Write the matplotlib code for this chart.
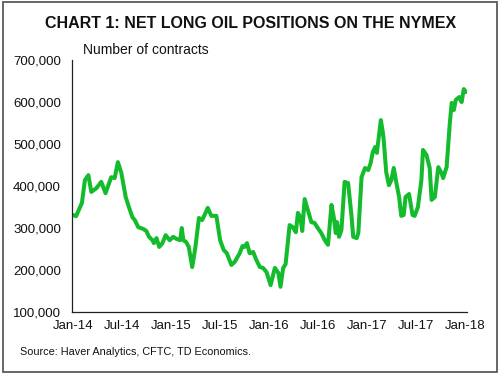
import matplotlib
matplotlib.use("Agg")
import matplotlib.pyplot as plt
import matplotlib.ticker as mticker
from matplotlib.patches import Rectangle
import pandas as pd

plt.rcParams['font.family'] = ['Liberation Sans', 'DejaVu Sans']

# # # # # # # # # # # # #    DATA    # # # # # # # # # # # # #
dates = ['2014-01-02', '2014-01-12', '2014-02-03', '2014-02-14', '2014-02-27',
         '2014-03-10', '2014-03-29', '2014-04-16', '2014-05-02', '2014-05-23',
         '2014-06-05', '2014-06-17', '2014-06-30', '2014-07-16', '2014-07-28',
         '2014-08-10', '2014-08-19', '2014-09-01', '2014-09-19', '2014-10-01',
         '2014-10-11', '2014-10-24', '2014-10-29', '2014-11-08', '2014-11-18',
         '2014-11-30', '2014-12-12', '2014-12-27', '2015-01-09', '2015-01-22',
         '2015-02-04', '2015-02-10', '2015-02-16', '2015-02-26', '2015-03-08',
         '2015-03-21', '2015-04-02', '2015-04-15', '2015-04-27', '2015-05-06',
         '2015-05-18', '2015-05-31', '2015-06-19', '2015-07-03', '2015-07-16',
         '2015-07-28', '2015-08-14', '2015-08-26', '2015-09-14', '2015-09-24',
         '2015-10-02', '2015-10-11', '2015-10-21', '2015-11-03', '2015-11-15',
         '2015-11-28', '2015-12-10', '2015-12-23', '2016-01-07', '2016-01-23',
         '2016-02-05', '2016-02-13', '2016-02-23', '2016-03-03', '2016-03-18',
         '2016-03-30', '2016-04-10', '2016-04-18', '2016-04-27', '2016-05-04',
         '2016-05-13', '2016-05-25', '2016-06-07', '2016-06-19', '2016-07-01',
         '2016-07-14', '2016-07-27', '2016-08-08', '2016-08-21', '2016-08-30',
         '2016-09-06', '2016-09-11', '2016-09-18', '2016-09-27', '2016-10-09',
         '2016-10-22', '2016-11-04', '2016-11-10', '2016-11-23', '2016-11-29',
         '2016-12-11', '2016-12-24', '2017-01-05', '2017-01-14', '2017-01-22',
         '2017-01-31', '2017-02-06', '2017-02-21', '2017-02-28', '2017-03-03',
         '2017-03-13', '2017-03-23', '2017-04-01', '2017-04-10', '2017-04-20',
         '2017-04-30', '2017-05-08', '2017-05-17', '2017-05-24', '2017-06-06',
         '2017-06-19', '2017-06-27', '2017-07-09', '2017-07-22', '2017-07-28',
         '2017-08-10', '2017-08-22', '2017-08-29', '2017-09-10', '2017-09-23',
         '2017-10-05', '2017-10-11', '2017-10-24', '2017-11-05', '2017-11-12',
         '2017-11-20', '2017-11-27', '2017-12-10', '2017-12-19', '2017-12-27',
         '2018-01-04']
contracts = [331000, 328000, 360000, 414000, 426000,
             386000, 395000, 410000, 383000, 421000,
             419000, 457000, 431000, 374000, 350000,
             326000, 319000, 302000, 298000, 293000,
             279000, 271000, 264000, 276000, 255000,
             264000, 283000, 271000, 279000, 274000,
             271000, 300000, 271000, 267000, 255000,
             207000, 255000, 324000, 319000, 331000,
             348000, 329000, 329000, 271000, 248000,
             240000, 212000, 219000, 240000, 257000,
             255000, 264000, 240000, 243000, 224000,
             207000, 205000, 195000, 164000, 205000,
             193000, 160000, 205000, 214000, 307000,
             302000, 290000, 336000, 326000, 293000,
             369000, 343000, 314000, 312000, 300000,
             288000, 271000, 260000, 355000, 324000,
             288000, 314000, 279000, 295000, 410000,
             407000, 326000, 279000, 276000, 288000,
             421000, 443000, 438000, 455000, 481000,
             493000, 479000, 557000, 529000, 514000,
             433000, 402000, 414000, 443000, 407000,
             374000, 329000, 331000, 374000, 381000,
             331000, 329000, 350000, 414000, 486000,
             474000, 443000, 367000, 374000, 445000,
             431000, 419000, 445000, 550000, 598000,
             581000, 605000, 612000, 600000, 631000,
             624000]

tick_dates = ['2014-01-01', '2014-07-01', '2015-01-01', '2015-07-01', '2016-01-01',
              '2016-07-01', '2017-01-01', '2017-07-01', '2018-01-01']
tick_labels = ['Jan-14', 'Jul-14', 'Jan-15', 'Jul-15', 'Jan-16',
               'Jul-16', 'Jan-17', 'Jul-17', 'Jan-18']

df = pd.DataFrame({'Date': pd.to_datetime(dates), 'Contracts': contracts})

# # # # # # # # # # # # #    CREATE GRAPH    # # # # # # # # # # # # #
fig = plt.figure(figsize=(5, 3.78), dpi=100)
ax = fig.add_axes([0.144, 0.1746, 0.79, 0.6664])

ax.plot(df['Date'], df['Contracts'], color='#14bb2c', linewidth=2.9,
        solid_joinstyle='round', solid_capstyle='round')

ax.set_ylim(100000, 700000)
ax.set_xlim(pd.Timestamp('2013-12-28'), pd.Timestamp('2018-01-08'))
ax.yaxis.set_major_locator(mticker.MultipleLocator(100000))
ax.yaxis.set_major_formatter(mticker.FuncFormatter(lambda v, p: '{:,.0f}'.format(v)))
ax.set_xticks(pd.to_datetime(tick_dates))
ax.set_xticklabels(tick_labels)

for side in ['top', 'right']:
    ax.spines[side].set_visible(False)
for side in ['left', 'bottom']:
    ax.spines[side].set_color('#222222')
    ax.spines[side].set_linewidth(0.9)
ax.tick_params(axis='both', length=0, labelsize=9.5, colors='#111111')
ax.tick_params(axis='y', pad=8)
ax.tick_params(axis='x', pad=6)

# texts
fig.text(0.502, 0.937, 'CHART 1: NET LONG OIL POSITIONS ON THE NYMEX',
         ha='center', va='center', fontsize=11.5, fontweight='bold', color='#111111')
fig.text(0.166, 0.868, 'Number of contracts', ha='left', va='center',
         fontsize=10, color='#111111')
fig.text(0.04, 0.069, 'Source: Haver Analytics, CFTC, TD Economics.',
         ha='left', va='center', fontsize=7.8, color='#111111')

# border around the picture
fig.patches.append(Rectangle((0.005, 0.016), 0.988, 0.978, transform=fig.transFigure,
                             fill=False, edgecolor='#5a5a5a', linewidth=1.3))

fig.savefig('out.png', dpi=100)
